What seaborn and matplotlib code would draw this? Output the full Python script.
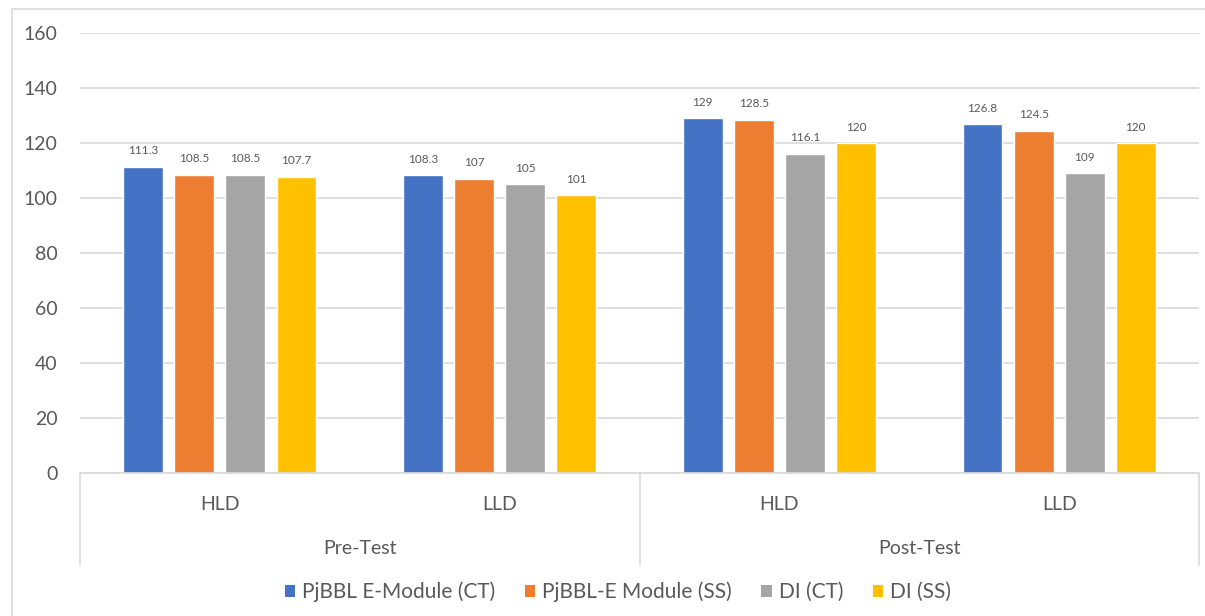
import matplotlib
matplotlib.use("Agg")
import matplotlib.pyplot as plt
import matplotlib.transforms as mtransforms
from matplotlib.patches import Rectangle, Patch
import pandas as pd
import seaborn as sns

# Data
groups = ["Pre-Test", "Pre-Test", "Post-Test", "Post-Test"]
levels = ["HLD", "LLD", "HLD", "LLD"]
series = ["PjBBL E-Module (CT)", "PjBBL-E Module (SS)", "DI (CT)", "DI (SS)"]
emodule_ct = [111.3, 108.3, 129, 126.8]
emodule_ss = [108.5, 107, 128.5, 124.5]
di_ct = [108.5, 105, 116.1, 109]
di_ss = [107.7, 101, 120, 120]
yticks = [0, 20, 40, 60, 80, 100, 120, 140, 160]

colors = ["#4472C4", "#ED7D31", "#A5A5A5", "#FFC000"]
text_color = "#595959"
line_color = "#D9D9D9"

keys = [f"{g} {l}" for g, l in zip(groups, levels)]
rows = []
for name, vals in zip(series, [emodule_ct, emodule_ss, di_ct, di_ss]):
    for k, v in zip(keys, vals):
        rows.append({"cat": k, "series": name, "value": v})
df = pd.DataFrame(rows)

sns.set_theme(style="white")
plt.rcParams["font.family"] = ["Lato", "DejaVu Sans"]

W, H = 1205, 616
fig = plt.figure(figsize=(W / 100, H / 100), dpi=100)
ax = fig.add_axes([80 / W, 1 - 473 / H, (1199 - 80) / W, (473 - 33) / H])

sns.barplot(data=df, x="cat", y="value", hue="series", order=keys,
            hue_order=series, palette=colors, width=0.73, gap=0.22,
            saturation=1, ax=ax, legend=False)

ax.set_xlim(-0.5, 3.5)
ax.set_ylim(0, 160)
ax.set_yticks(yticks)
ax.set_yticklabels([str(t) for t in yticks], fontsize=14, color=text_color)
ax.tick_params(axis="y", length=0, pad=16)
ax.tick_params(axis="x", length=0, labelbottom=False)
ax.set_xlabel("")
ax.set_ylabel("")
ax.yaxis.grid(True, color=line_color, linewidth=1.2)
ax.set_axisbelow(True)
for s in ax.spines.values():
    s.set_visible(False)

# Value labels above each bar
for cont in ax.containers:
    for bar in cont:
        h = bar.get_height()
        ax.annotate(f"{h:g}", (bar.get_x() + bar.get_width() / 2, h),
                    xytext=(0, 11.5), textcoords="offset points",
                    ha="center", va="center", fontsize=8.5, color=text_color)

# Two-level category axis
trans = mtransforms.blended_transform_factory(ax.transData, ax.transAxes)
ybase = 0
ybottom = -(565 - 473) / 440
ax.plot([-0.5, 3.5], [ybase, ybase], transform=trans, color=line_color,
        lw=1.2, clip_on=False)
for xd in [-0.5, 1.5, 3.5]:
    ax.plot([xd, xd], [ybase, ybottom], transform=trans, color=line_color,
            lw=1.2, clip_on=False)
for i, lvl in enumerate(levels):
    ax.text(i, -(505 - 473) / 440, lvl, transform=trans, ha="center",
            va="center", fontsize=14, color=text_color)
for xc, g in [(0.5, "Pre-Test"), (2.5, "Post-Test")]:
    ax.text(xc, -(549 - 473) / 440, g, transform=trans, ha="center",
            va="center", fontsize=14, color=text_color)

# Legend
handles = [Patch(facecolor=c, edgecolor="none", label=s) for c, s in zip(colors, series)]
fig.legend(handles=handles, loc="center", bbox_to_anchor=(618 / W, 1 - 592 / H),
           ncol=4, frameon=False, fontsize=15, handlelength=0.5, handleheight=0.5,
           handletextpad=0.35, columnspacing=1.4, labelcolor=text_color)

# Chart border
fig.patches.append(Rectangle((12 / W, -0.1), 1.2, 1 - 9 / H + 0.1,
                             transform=fig.transFigure, fill=False,
                             edgecolor=line_color, lw=1.2, zorder=0))

fig.savefig("out.png", dpi=100, facecolor="white")
